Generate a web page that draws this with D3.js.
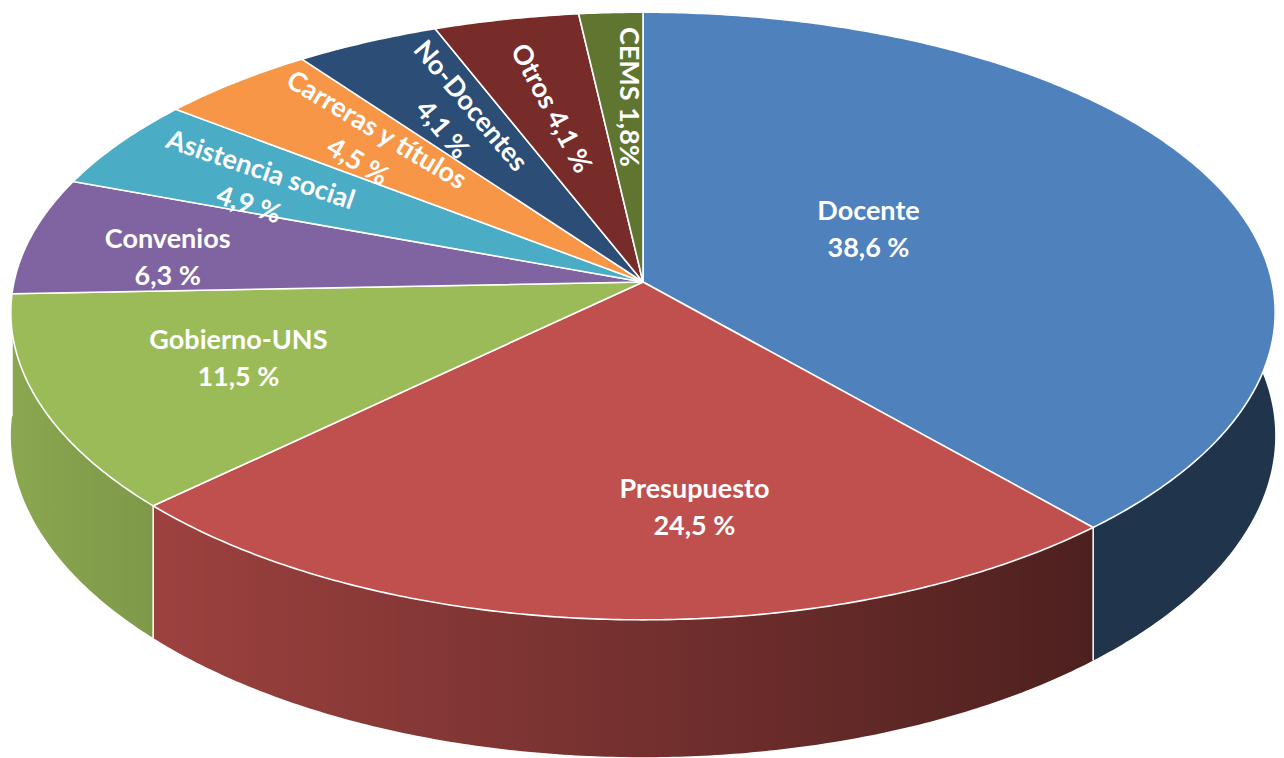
<!DOCTYPE html>
<html>
<head>
<meta charset="utf-8">
<script src="https://cdn.jsdelivr.net/npm/d3@7"></script>
<style>
  body { margin: 0; background: #ffffff; }
  .lbl text { font-family: Lato, "Open Sans", sans-serif; font-weight: 700; fill: #ffffff; font-size: 27px; }
</style>
</head>
<body>
<svg id="chart" width="1284" height="758"></svg>
<script>
var categories = ["Docente", "Presupuesto", "Gobierno-UNS", "Convenios", "Asistencia social",
                  "Carreras y títulos", "No-Docentes", "Otros", "CEMS"];
var values = [38.6, 24.5, 11.5, 6.3, 4.9, 4.5, 4.1, 4.1, 1.8];
var valueLabels = ["38,6 %", "24,5 %", "11,5 %", "6,3 %", "4,9 %", "4,5 %", "4,1 %", "4,1 %", "1,8%"];
var colors = ["#4f81bd", "#c0504d", "#9bbb59", "#8064a2", "#4bacc6",
              "#f79646", "#2c4d75", "#772c2a", "#5f7530"];

// label layout: position inside the slice (fraction of its angle, fraction of radius), text rotation
var labelT = [0.46, 0.40, 0.535, 0.385, 0.40, 0.52, 0.53, 0.49, 0.70];
var labelR = [0.407, 0.696, 0.674, 0.767, 0.718, 0.665, 0.664, 0.639, 0.663];
var labelRot = [0, 0, 0, 0, 18.6, 31, 50, 62, 90];
var labelOneLine = [false, false, false, false, false, false, false, true, true];

var cx = 643, cy = 282;   // pie centre on screen
var rx = 629, ry = 300;   // projected radii
var kx = 0.1, ky = 0.112; // perspective strength
var depth = 122;          // thickness of the pie

var svg = d3.select("#chart");
var defs = svg.append("defs");

// angle a in radians clockwise from 12 o'clock
function project(a, r, bottom) {
    var X = r * Math.sin(a), Z = -r * Math.cos(a);
    var sx = 1 / (1 - kx * Z), sy = 1 / (1 - ky * Z);
    return [cx + rx * X * sx, cy + (ry * Z + (bottom ? depth : 0)) * sy];
}

function shade(color, a) {
    var f = Math.max(0.4, Math.min(0.9, 0.6 - 0.3 * Math.sin(a)));
    var c = d3.rgb(color);
    return d3.rgb(c.r * f, c.g * f, c.b * f).formatHex();
}

var arcs = d3.pie().sort(null).value(function(d) { return d; })(values);
var line = d3.line();
var step = Math.PI / 360;

function samples(a0, a1) {
    var n = Math.max(4, Math.ceil((a1 - a0) / step)), out = [];
    for (var j = 0; j <= n; j++) out.push(a0 + (a1 - a0) * j / n);
    return out;
}

// side walls, one path per slice with a horizontal gradient for the lighting
var walls = arcs.map(function(d, i) {
    return { d: d, i: i, z: -Math.cos((d.startAngle + d.endAngle) / 2) };
}).sort(function(p, q) { return p.z - q.z; });

walls.forEach(function(w) {
    var angs = samples(w.d.startAngle, w.d.endAngle);
    var front = angs.filter(function(a) { return -Math.cos(a) > -0.05; });
    if (!front.length) front = angs;
    var xs = front.map(function(a) { return project(a, 1, false)[0]; });
    var x0 = d3.min(xs), x1 = d3.max(xs);
    if (x1 - x0 < 1) x1 = x0 + 1;
    var grad = defs.append("linearGradient")
        .attr("id", "wall" + w.i)
        .attr("gradientUnits", "userSpaceOnUse")
        .attr("x1", x0).attr("x2", x1).attr("y1", 0).attr("y2", 0);
    var stops = front.map(function(a, j) { return { o: (xs[j] - x0) / (x1 - x0), c: shade(colors[w.i], a) }; })
        .sort(function(p, q) { return p.o - q.o; });
    grad.selectAll("stop").data(stops).enter().append("stop")
        .attr("offset", function(s) { return s.o; })
        .attr("stop-color", function(s) { return s.c; });
    w.path = line(angs.map(function(a) { return project(a, 1, false); })
        .concat(angs.slice().reverse().map(function(a) { return project(a, 1, true); }))) + "Z";
});

svg.append("g").attr("class", "walls")
    .selectAll("path")
    .data(walls)
    .enter().append("path")
    .attr("d", function(w) { return w.path; })
    .attr("fill", function(w) { return "url(#wall" + w.i + ")"; });

// white seams between walls on the visible front
svg.append("g").attr("class", "seams")
    .selectAll("path")
    .data(arcs.filter(function(d) { return -Math.cos(d.endAngle) > 0; }))
    .enter().append("path")
    .attr("d", function(d) { return line([project(d.endAngle, 1, false), project(d.endAngle, 1, true)]); })
    .attr("stroke", "#ffffff")
    .attr("stroke-width", 1.5)
    .attr("fill", "none");

// top faces
svg.append("g").attr("class", "tops")
    .selectAll("path")
    .data(arcs)
    .enter().append("path")
    .attr("d", function(d) {
        return line([[cx, cy]].concat(samples(d.startAngle, d.endAngle)
            .map(function(a) { return project(a, 1, false); }))) + "Z";
    })
    .attr("fill", function(d, i) { return colors[i]; })
    .attr("stroke", "#ffffff")
    .attr("stroke-width", 1.6)
    .attr("stroke-linejoin", "round");

// labels
var lbl = svg.append("g").attr("class", "lbl")
    .selectAll("g")
    .data(arcs)
    .enter().append("g")
    .attr("transform", function(d, i) {
        var a = d.startAngle + (d.endAngle - d.startAngle) * labelT[i];
        var p = project(a, labelR[i], false);
        return "translate(" + p[0] + "," + p[1] + ") rotate(" + labelRot[i] + ")";
    });

lbl.each(function(d, i) {
    var g = d3.select(this);
    if (labelOneLine[i]) {
        g.append("text").attr("text-anchor", "middle").attr("dy", "0.35em")
            .text(categories[i] + " " + valueLabels[i]);
    } else {
        g.append("text").attr("text-anchor", "middle").attr("y", -18).attr("dy", "0.35em")
            .text(categories[i]);
        g.append("text").attr("text-anchor", "middle").attr("y", 19).attr("dy", "0.35em")
            .text(valueLabels[i]);
    }
});
</script>
</body>
</html>
